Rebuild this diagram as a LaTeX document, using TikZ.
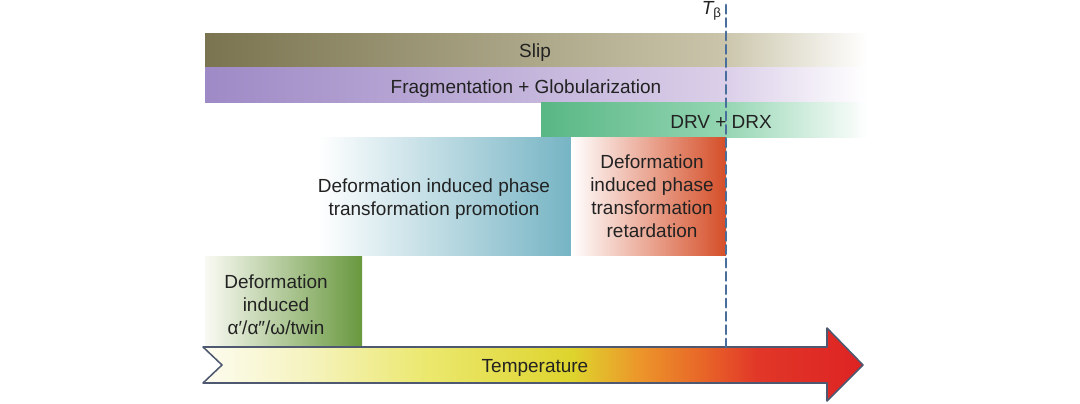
\documentclass[tikz,border=0pt]{standalone}
\usepackage{fontspec}
\setmainfont{Liberation Sans}
\usepackage{tkz-euclide}
\definecolor{SlipClr}{RGB}{122,116,80}
\definecolor{SlipLightClr}{RGB}{202,197,170}
\definecolor{FragClr}{RGB}{158,138,198}
\definecolor{FragLightClr}{RGB}{218,206,232}
\definecolor{DrvClr}{RGB}{88,183,132}
\definecolor{DrvLightClr}{RGB}{148,213,178}
\definecolor{PromoClr}{RGB}{118,180,196}
\definecolor{RetardClr}{RGB}{213,78,40}
\definecolor{TwinClr}{RGB}{104,152,62}
\definecolor{TwinLightClr}{RGB}{250,250,244}
\definecolor{ArrowLineClr}{RGB}{78,88,112}
\definecolor{DashClr}{RGB}{74,110,156}
\definecolor{TextClr}{RGB}{34,34,34}
\definecolor{HotAClr}{RGB}{253,252,240}
\definecolor{HotBClr}{RGB}{245,243,190}
\definecolor{HotCClr}{RGB}{235,232,110}
\definecolor{HotDClr}{RGB}{222,212,45}
\definecolor{HotEClr}{RGB}{236,150,42}
\definecolor{HotFClr}{RGB}{232,100,40}
\definecolor{HotGClr}{RGB}{225,55,40}
\definecolor{HotHClr}{RGB}{222,35,35}
\pgfdeclarehorizontalshading{SlipShade}{100bp}{color(0bp)=(SlipClr); color(25bp)=(SlipClr); color(64bp)=(SlipLightClr); color(75bp)=(white); color(100bp)=(white)}
\pgfdeclarehorizontalshading{FragShade}{100bp}{color(0bp)=(FragClr); color(25bp)=(FragClr); color(64bp)=(FragLightClr); color(75bp)=(white); color(100bp)=(white)}
\pgfdeclarehorizontalshading{DrvShade}{100bp}{color(0bp)=(DrvClr); color(25bp)=(DrvClr); color(53bp)=(DrvLightClr); color(75bp)=(white); color(100bp)=(white)}
\pgfdeclarehorizontalshading{PromoShade}{100bp}{color(0bp)=(white); color(30bp)=(white); color(75bp)=(PromoClr); color(100bp)=(PromoClr)}
\pgfdeclarehorizontalshading{HotShade}{100bp}{color(0bp)=(HotAClr); color(25bp)=(HotAClr); color(33bp)=(HotBClr); color(42bp)=(HotCClr); color(53bp)=(HotDClr); color(58bp)=(HotEClr); color(63bp)=(HotFClr); color(67bp)=(HotGClr); color(75bp)=(HotHClr); color(100bp)=(HotHClr)}

\begin{document}
\begin{tikzpicture}[lbl/.style={font=\fontsize{13.5}{16.4}\selectfont,text=TextClr,align=center,inner sep=0pt}]

\tkzDefPoints{0/0/O,27/10.075/W}
\useasboundingbox (O) rectangle (W);

\tkzDefPoints{5.125/8.375/S1,21.7/9.225/S2,5.125/7.5/F1,21.7/8.375/F2,13.525/6.625/R1,21.7/7.5/R2}
\tkzDefPoints{7.25/3.675/P1,14.275/6.625/P2,14.275/3.675/Q1,18.15/6.625/Q2,5.125/1.4/V1,9.05/3.65/V2}
\tkzDefPoints{5.075/1.4/A1,5.55/0.95/A2,5.075/0.5/A3,20.675/0.5/A4,20.675/0.05/A5,21.575/0.95/A6,20.675/1.875/A7,20.675/1.4/A8}
\tkzDefPoints{18.15/9.95/D1,18.15/1.4/D2}

\shade[shading=SlipShade] (S1) rectangle (S2);
\shade[shading=FragShade] (F1) rectangle (F2);
\shade[shading=DrvShade] (R1) rectangle (R2);
\shade[shading=PromoShade] (P1) rectangle (P2);
\shade[left color=white,right color=RetardClr] (Q1) rectangle (Q2);
\shade[left color=TwinLightClr,right color=TwinClr] (V1) rectangle (V2);

\shade[shading=HotShade] (A1)--(A2)--(A3)--(A4)--(A5)--(A6)--(A7)--(A8)--cycle;
\tkzDrawPolygon[ArrowLineClr,line width=1.1pt](A1,A2,A3,A4,A5,A6,A7,A8)

\node[lbl] (slip) at (13.375,8.75) {Slip};
\node[lbl] (frag) at (13.15,7.85) {Fragmentation + Globularization};
\node[lbl] (drv) at (18.025,7.025) {DRV + DRX};
\node[lbl] (promo) at (10.85,5.1) {Deformation induced phase\\transformation promotion};
\node[lbl] (retard) at (16.3,5.175) {Deformation\\induced phase\\transformation\\retardation};
\node[lbl] (twin) at (6.9,2.45) {Deformation\\induced\\α′/α″/ω/twin};
\node[lbl] (temp) at (13.375,0.875) {Temperature};

\tkzDrawSegment[DashClr,line width=2pt,dash pattern=on 6pt off 3.5pt](D1,D2)
\node[lbl,anchor=east] (tbeta) at (18.05,9.8) {{\itshape T}\textsubscript{β}};

\end{tikzpicture}
\end{document}
